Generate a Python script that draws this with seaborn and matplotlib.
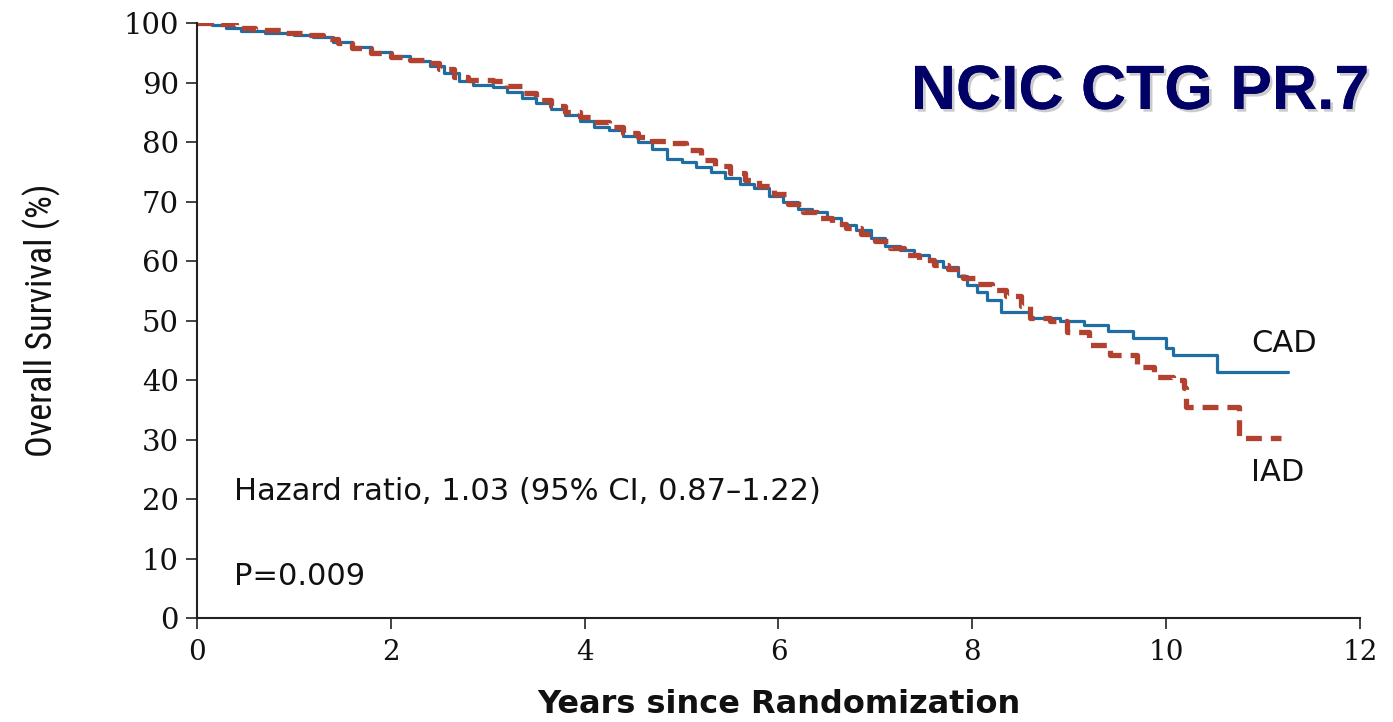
import matplotlib
matplotlib.use("Agg")
import matplotlib.pyplot as plt
import matplotlib.patheffects as pe
from matplotlib import font_manager
import seaborn as sns
import pandas as pd

# Kaplan-Meier step estimates: years since randomization and overall survival (%)
cad_years = [0, 0.15, 0.3, 0.45, 0.7, 1.0, 1.2, 1.4, 1.6, 1.8, 2.0, 2.2, 2.4, 2.55,
             2.7, 2.85, 3.05, 3.2, 3.35, 3.5, 3.65, 3.8, 3.95, 4.1, 4.25, 4.4, 4.55,
             4.7, 4.85, 5.0, 5.15, 5.3, 5.45, 5.6, 5.75, 5.9, 6.05, 6.2, 6.35, 6.5,
             6.65, 6.8, 6.95, 7.1, 7.25, 7.4, 7.55, 7.7, 7.85, 7.95, 8.05, 8.15, 8.3,
             8.6, 8.9, 9.15, 9.4, 9.66, 10.0, 10.07, 10.52, 11.26]
cad_surv = [100, 99.6, 99.2, 98.6, 98.3, 98.0, 97.6, 96.8, 96.0, 95.2, 94.5, 93.6,
            92.8, 91.6, 90.2, 89.6, 89.2, 88.4, 87.4, 86.6, 85.6, 84.6, 83.5, 82.6,
            82.0, 81.0, 80.0, 78.8, 77.2, 76.6, 75.8, 75.0, 74.0, 73.0, 72.2, 71.0,
            70.0, 68.8, 68.2, 67.2, 66.0, 65.2, 63.8, 62.6, 61.8, 61.0, 60.0, 59.0,
            57.5, 56.0, 54.8, 53.5, 51.5, 50.4, 50.0, 49.2, 48.2, 47.0, 45.4, 44.2,
            41.4, 41.4]

iad_years = [0, 0.2, 0.4, 0.6, 0.9, 1.15, 1.3, 1.45, 1.6, 1.8, 2.0, 2.2, 2.35, 2.5,
             2.65, 2.8, 3.05, 3.2, 3.35, 3.5, 3.65, 3.8, 3.95, 4.1, 4.25, 4.4, 4.55,
             4.7, 4.9, 5.05, 5.2, 5.35, 5.5, 5.65, 5.8, 5.95, 6.1, 6.25, 6.4, 6.55,
             6.7, 6.85, 7.0, 7.15, 7.3, 7.45, 7.6, 7.75, 7.9, 8.05, 8.2, 8.35, 8.5,
             8.6, 8.8, 8.98, 9.2, 9.42, 9.7, 9.87, 10.07, 10.18, 10.2, 10.75, 11.18]
iad_surv = [100, 99.8, 99.2, 98.8, 98.3, 98.0, 97.4, 96.6, 95.8, 95.0, 94.3, 93.8,
            93.3, 92.3, 91.0, 90.4, 90.2, 89.4, 88.2, 87.0, 86.0, 85.0, 84.2, 83.4,
            82.6, 81.6, 80.8, 80.2, 79.8, 78.6, 77.0, 76.0, 74.8, 73.6, 72.6, 71.2,
            69.6, 68.2, 67.2, 66.2, 65.6, 64.6, 63.4, 62.2, 61.0, 60.2, 59.4, 58.6,
            57.2, 56.2, 55.2, 54.2, 52.4, 50.4, 50.0, 48.0, 45.9, 44.2, 42.2, 40.5,
            40.0, 38.7, 35.5, 30.3, 30.3]

x_ticks = [0, 2, 4, 6, 8, 10, 12]
y_ticks = [0, 10, 20, 30, 40, 50, 60, 70, 80, 90, 100]

CAD_COLOR = "#1f6ea3"
IAD_COLOR = "#b2412f"
INK = "#111111"

sns.set_style("ticks")
plt.rcParams["font.family"] = ["DejaVu Sans"]

# Narrow face for the y-axis title, if one is installed
installed = {f.name for f in font_manager.fontManager.ttflist}
narrow = "DejaVu Sans"
for cand in ("Liberation Sans Narrow", "Roboto Condensed", "Open Sans Condensed",
             "DejaVu Sans Condensed"):
    if cand in installed:
        narrow = cand
        break

fig = plt.figure(figsize=(13.93, 7.22), dpi=100)
ax = fig.add_axes([0.1414, 0.1440, 0.8349, 0.8241])

cad = pd.DataFrame({"years": cad_years, "survival": cad_surv})
iad = pd.DataFrame({"years": iad_years, "survival": iad_surv})

sns.lineplot(data=cad, x="years", y="survival", ax=ax, estimator=None,
             drawstyle="steps-post", color=CAD_COLOR, linewidth=2.3)
sns.lineplot(data=iad, x="years", y="survival", ax=ax, estimator=None,
             drawstyle="steps-post", color=IAD_COLOR, linewidth=3.8)
ax.lines[-1].set_linestyle((0, (3.0, 1.7)))

ax.set_xlim(0, 12)
ax.set_ylim(0, 100)
ax.set_xticks(x_ticks)
ax.set_yticks(y_ticks)
ax.set_xticklabels([str(v) for v in x_ticks], fontsize=20, family="DejaVu Serif",
                   color=INK)
ax.set_yticklabels([str(v) for v in y_ticks], fontsize=21, family="DejaVu Serif",
                   color=INK)
ax.tick_params(axis="both", direction="out", length=8, width=1.2, color="#222222")
ax.tick_params(axis="y", pad=5)
ax.tick_params(axis="x", pad=7)
for side in ("top", "right"):
    ax.spines[side].set_visible(False)
for side in ("left", "bottom"):
    ax.spines[side].set_linewidth(1.5)
    ax.spines[side].set_color("#222222")

ax.set_xlabel("Years since Randomization", fontsize=23, fontweight="bold",
              color=INK)
ax.xaxis.set_label_coords(0.5, -0.146)
ax.xaxis.label.set_va("center")
ax.set_ylabel("Overall Survival (%)", fontsize=26, family=narrow,
              fontstretch="condensed", color=INK)
ax.yaxis.set_label_coords(-0.117, 0.50)

ax.text(0.38, 21.2, "Hazard ratio, 1.03 (95% CI, 0.87\u20131.22)", fontsize=22,
        va="center", ha="left", color=INK)
ax.text(0.38, 7.0, "P=0.009", fontsize=22, va="center", ha="left", color=INK)

ax.text(11.22, 46.2, "CAD", fontsize=22, va="center", ha="center", color=INK)
ax.text(11.15, 24.5, "IAD", fontsize=22, va="center", ha="center", color=INK)

fig.text(0.983, 0.872, "NCIC CTG PR.7", fontsize=45, fontweight="bold",
         family="Liberation Sans", color="#000066", ha="right", va="center",
         path_effects=[pe.withSimplePatchShadow(offset=(2, -2), shadow_rgbFace="#999999",
                                                alpha=0.5), pe.Normal()])

fig.savefig("out.png", dpi=100, facecolor="white")
